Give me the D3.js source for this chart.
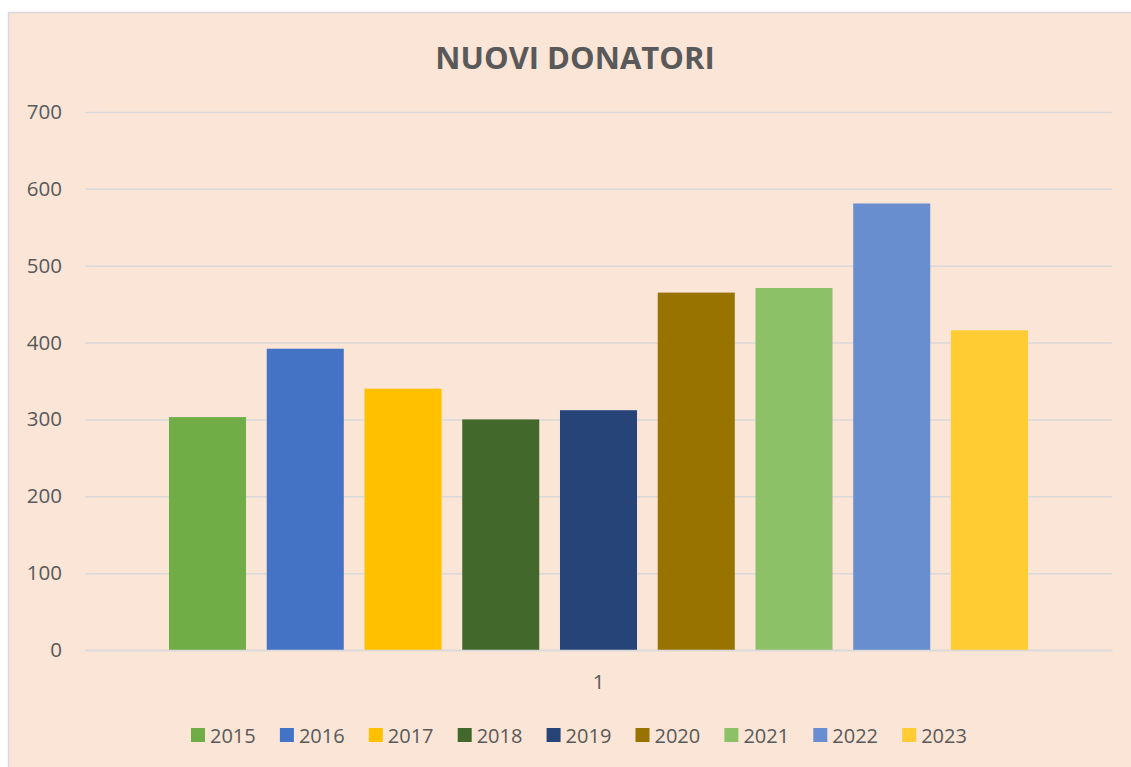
<!DOCTYPE html>
<html><head><meta charset="utf-8">
<script src="https://cdn.jsdelivr.net/npm/d3@7"></script>
<style>html,body{margin:0;padding:0;background:#fff;}svg{display:block;}</style>
</head><body>
<svg id="c" width="1131" height="767"></svg>
<script>
const categories = ["1"];
const years = ["2015","2016","2017","2018","2019","2020","2021","2022","2023"];
const values = [303, 392, 340, 300, 312, 465, 471, 581, 416];
const colors = ["#70AD47","#4472C4","#FFC000","#43682B","#264478","#997300","#8CC168","#698ED0","#FFCD33"];
const yTicks = [0,100,200,300,400,500,600,700];
const title = "NUOVI DONATORI";

const svg = d3.select("#c");
const font = "'Open Sans', 'Liberation Sans', sans-serif";
const textCol = "#595959";

svg.append("rect").attr("x",8.5).attr("y",12.5).attr("width",1131).attr("height",767)
  .attr("fill","#FBE5D6").attr("stroke","#D9D9D9").attr("stroke-width",1.5);

const L = 85, R = 1112, T = 112, B = 650;
const y = d3.scaleLinear().domain([0,700]).range([B,T]);
const x0 = d3.scaleBand().domain(categories).range([L,R]).paddingOuter(0.0837).paddingInner(0);
const x1 = d3.scaleBand().domain(years).range([0,x0.bandwidth()]).paddingInner(0.212).paddingOuter(0.106);

// gridlines
const yAxis = d3.axisLeft(y).tickValues(yTicks).tickSize(-(R-L)).tickPadding(23);
const ga = svg.append("g").attr("transform",`translate(${L},0)`).call(yAxis);
ga.select(".domain").remove();
ga.selectAll(".tick line").attr("stroke","#D9D9D9").attr("stroke-width",1.5);
ga.selectAll(".tick text").attr("fill",textCol).style("font-family",font).style("font-size","20.5px");

// bars
const g = svg.append("g");
categories.forEach(cat => {
  g.selectAll("rect.b").data(years).enter().append("rect")
    .attr("x", d => x0(cat) + x1(d))
    .attr("width", x1.bandwidth())
    .attr("y", (d,i) => y(values[i]))
    .attr("height", (d,i) => y(0) - y(values[i]))
    .attr("fill", (d,i) => colors[i]);
});

// x axis
const xa = svg.append("g").attr("transform",`translate(0,${B})`).call(d3.axisBottom(x0).tickSize(0).tickPadding(24));
xa.select(".domain").attr("stroke","#D9D9D9").attr("stroke-width",1.5);
xa.selectAll(".tick text").attr("fill",textCol).style("font-family",font).style("font-size","20.5px");

// title
svg.append("text").attr("x",575).attr("y",69).attr("text-anchor","middle")
  .attr("fill",textCol).style("font-family",font).style("font-size","31px").style("font-weight","bold")
  .text(title);

// legend
const lg = svg.append("g");
const lx0 = 191, step = 88.9;
years.forEach((yr,i) => {
  const gx = lx0 + i*step;
  lg.append("rect").attr("x",gx).attr("y",728).attr("width",14).attr("height",14).attr("fill",colors[i]);
  lg.append("text").attr("x",gx+19).attr("y",742.5).attr("fill",textCol)
    .style("font-family",font).style("font-size","20px").text(yr);
});
</script>
</body></html>
